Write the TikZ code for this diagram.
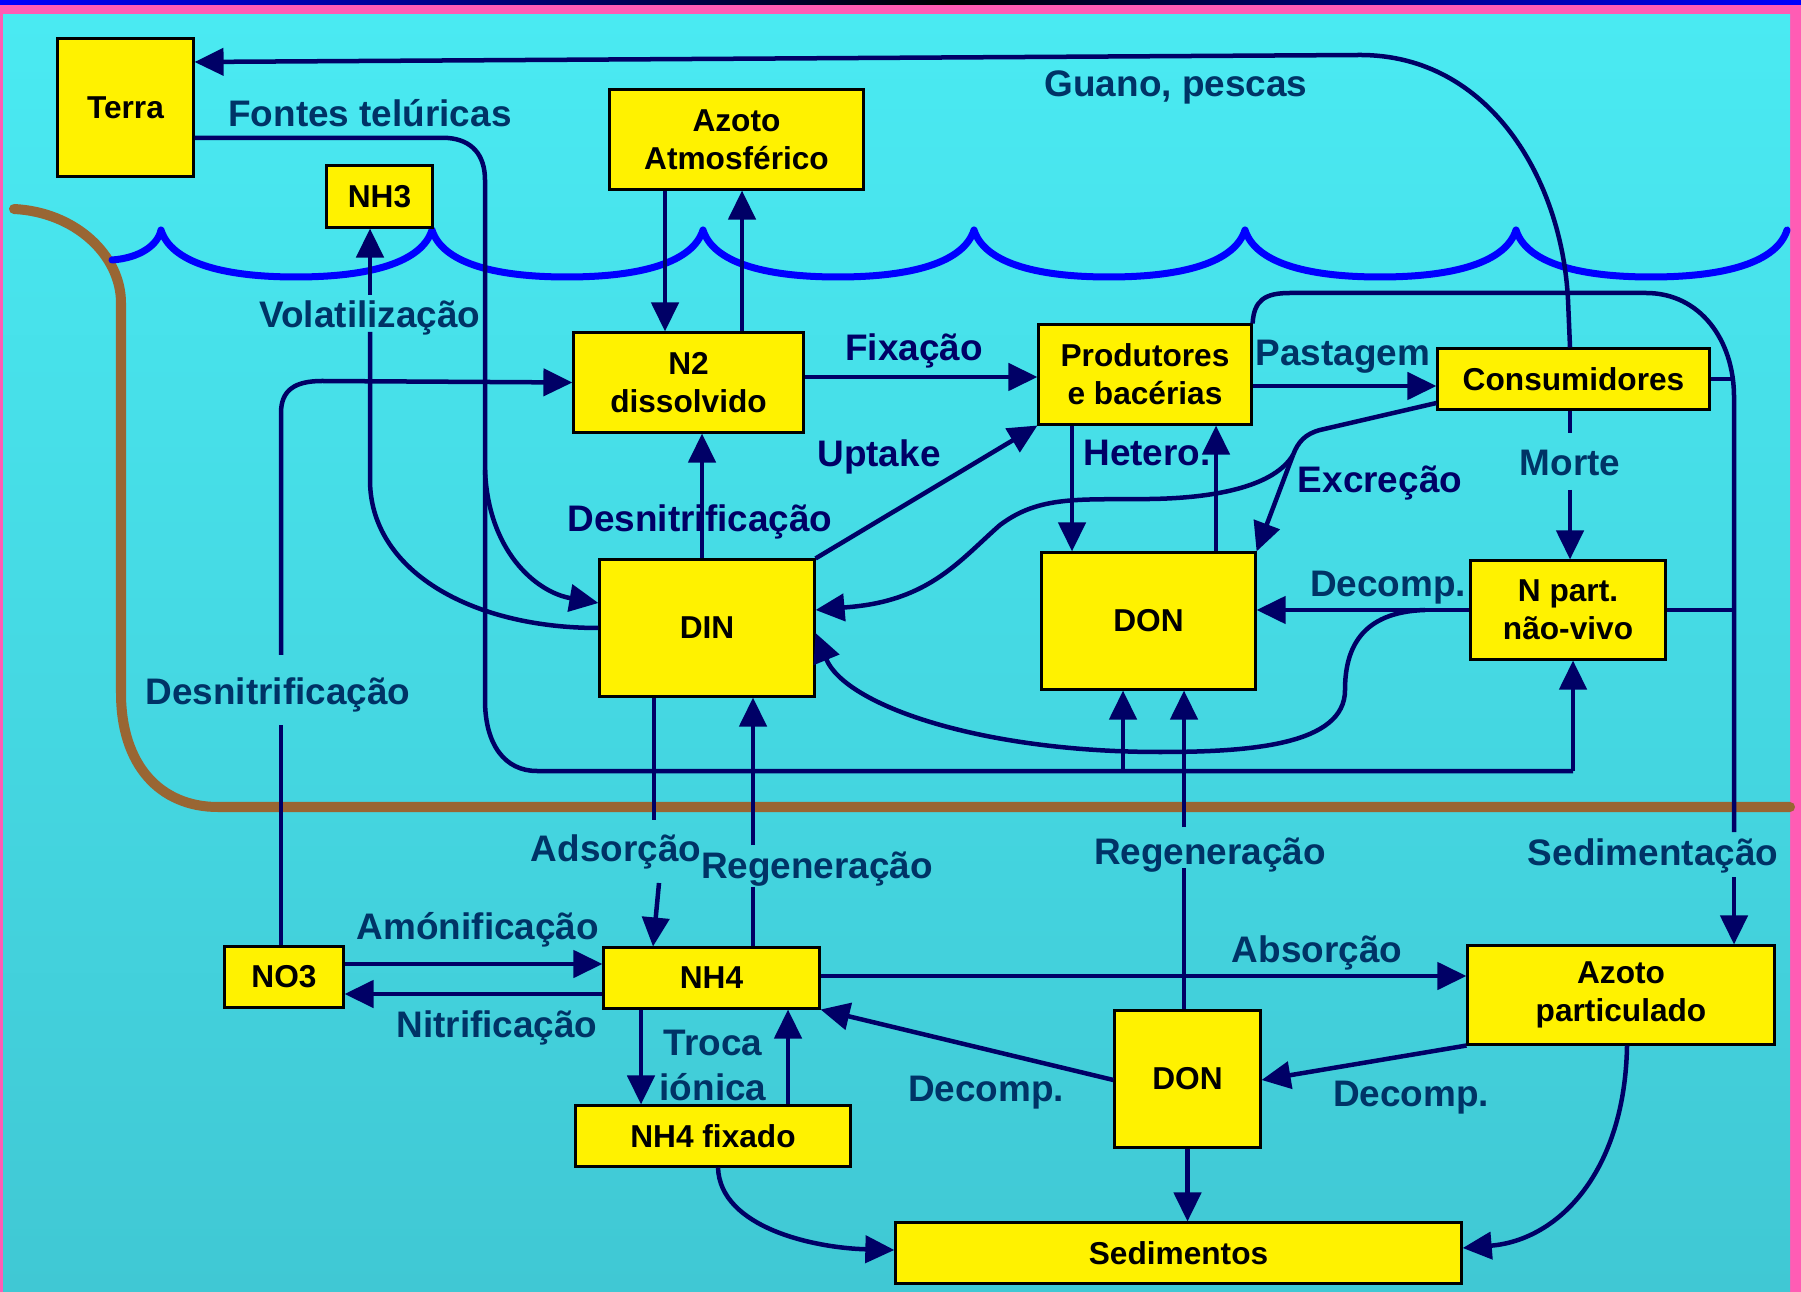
\documentclass[tikz,border=0pt]{standalone}
\usepackage{fontspec}
\setmainfont{Liberation Sans}
\usetikzlibrary{arrows.meta}
\definecolor{fundoA}{HTML}{4AEAF2}
\definecolor{fundoB}{HTML}{40C8D4}
\definecolor{rosa}{HTML}{FF5CB4}
\definecolor{marinho}{HTML}{000066}
\definecolor{azulesc}{HTML}{003366}
\definecolor{barro}{HTML}{996633}
\begin{document}
\begin{tikzpicture}[x=0.01cm,y=-0.01cm,
  pool/.style={draw=black,line width=0.03cm,fill=yellow,inner sep=0pt,align=center,font=\fontsize{9}{10.8}\selectfont\bfseries},
  proc/.style={text=azulesc,inner sep=0pt,align=center,font=\fontsize{10.5}{12.8}\selectfont\bfseries},
  procn/.style={proc,text=marinho},
  fio/.style={draw=marinho,line width=0.045cm},
  flux/.style={fio,-{Triangle[length=0.29cm,width=0.27cm]}}]
\useasboundingbox (0,0) rectangle (1801,1292);
\fill[rosa] (0,0) rectangle (1801,1292);
\shade[left color=blue,right color=black] (0,0) rectangle (950,5);
\shade[left color=black,right color=blue] (950,0) rectangle (1801,5);
\shade[top color=fundoA,bottom color=fundoB] (3,15) rectangle (1790,1292);
\draw[barro,line width=0.1cm,line cap=round] (14,209) .. controls (75,212) and (121,255) .. (121,303) -- (121,693) .. controls (121,765) and (160,807) .. (218,807) -- (1790,807);
\draw[blue,line width=0.07cm,line join=round,line cap=round] (112,260) .. controls (140,258) and (158,245) .. (161,230)
  foreach \c in {161,432,703,974,1245,1516} { .. controls ({\c+10},262) and ({\c+60},277) .. ({\c+135},277) .. controls ({\c+210},277) and ({\c+261},262) .. ({\c+271},230) };

\node[pool,minimum width=1.35cm,minimum height=1.37cm] (terra) at (125.5,107.5) {Terra};
\node[pool,minimum width=1.05cm,minimum height=0.61cm] (nh3) at (379.5,196.5) {NH3};
\node[pool,minimum width=2.53cm,minimum height=0.99cm] (azatm) at (736.5,139.5) {Azoto\\Atmosférico};
\node[pool,minimum width=2.29cm,minimum height=0.99cm] (n2) at (688.5,382.5) {N2\\dissolvido};
\node[pool,minimum width=2.12cm,minimum height=0.99cm] (prod) at (1145,374.5) {Produtores\\e bacérias};
\node[pool,minimum width=2.71cm,minimum height=0.60cm] (cons) at (1573.5,379) {Consumidores};
\node[pool,minimum width=2.14cm,minimum height=1.36cm] (din) at (707,628) {DIN};
\node[pool,minimum width=2.13cm,minimum height=1.36cm] (donsup) at (1148.5,621) {DON};
\node[pool,minimum width=1.94cm,minimum height=0.98cm] (npart) at (1568,610) {N part.\\não-vivo};
\node[pool,minimum width=1.18cm,minimum height=0.60cm] (no3) at (284,977) {NO3};
\node[pool,minimum width=2.15cm,minimum height=0.60cm] (nh4) at (711.5,978) {NH4};
\node[pool,minimum width=2.74cm,minimum height=0.60cm] (nh4fix) at (713,1136) {NH4 fixado};
\node[pool,minimum width=1.45cm,minimum height=1.36cm] (doninf) at (1187.5,1079) {DON};
\node[pool,minimum width=3.06cm,minimum height=0.98cm] (azpart) at (1621,995) {Azoto\\particulado};
\node[pool,minimum width=5.65cm,minimum height=0.60cm] (sed) at (1178.5,1253) {Sedimentos};

\node[proc] (lfontes) at (370,113) {Fontes telúricas};
\node[proc] (lguano) at (1176,87) {Guano, pescas};
\node[proc] (lvolat) at (370,318) {Volatilização};
\node[procn] (lfix) at (914,351) {Fixação};
\node[proc] (lpast) at (1343,357) {Pastagem};
\node[procn] (lupt) at (879,457) {Uptake};
\node[procn] (lhet) at (1147,453) {Hetero.};
\node[procn] (lexc) at (1380,483) {Excreção};
\node[proc] (lmorte) at (1570,463) {Morte};
\node[procn] (ldesa) at (700,522) {Desnitrificação};
\node[proc] (ldeca) at (1388,588) {Decomp.};
\node[proc] (ldesb) at (278,695) {Desnitrificação};
\node[proc] (ladso) at (616,852) {Adsorção};
\node[proc] (lrega) at (817,869) {Regeneração};
\node[proc] (lregb) at (1210,855) {Regeneração};
\node[proc] (lsedi) at (1653,856) {Sedimentação};
\node[proc] (lamon) at (478,930) {Amónificação};
\node[proc] (lnitr) at (497,1028) {Nitrificação};
\node[proc] (ltroca) at (713,1065) {Troca\\iónica};
\node[proc] (labso) at (1317,953) {Absorção};
\node[proc] (ldecb) at (986,1093) {Decomp.};
\node[proc] (ldecc) at (1411,1098) {Decomp.};

\draw[flux] (cons.north -| 1570,0) -- (1568,300) .. controls (1562,180) and (1490,55) .. (1360,55) -- (terra.east |- 0,62);
\draw[fio] (terra.east |- 0,138) -- (448,138) .. controls (472,140) and (485,155) .. (485,180) -- (485,700) .. controls (485,745) and (505,771) .. (537,771) -- (1573,771);
\coordinate (jfontes) at (485,470);
\draw[flux] (jfontes) .. controls (488,550) and (535,592) .. (din.west |- 0,603);
\draw[flux] (1573,771) -- (npart.south -| 1573,0);
\draw[flux] (1123,771) -- (donsup.south -| 1123,0);
\draw[fio] (din.west) .. controls (470,628) and (370,570) .. (370,480) -- (370,332);
\draw[flux] (370,295) -- (nh3.south -| 370,0);
\draw[fio] (no3.north -| 281,0) -- (281,725);
\draw[flux] (281,655) -- (281,413) .. controls (281,390) and (295,381) .. (322,381) -- (n2.west);
\draw[flux] (azatm.south -| 665,0) -- (n2.north -| 665,0);
\draw[flux] (n2.north -| 742,0) -- (azatm.south -| 742,0);
\draw[flux] (n2.east |- 0,377) -- (prod.west |- 0,377);
\draw[flux] (prod.east |- 0,386) -- (cons.west |- 0,386);
\draw[flux] (din.north -| 702,0) -- (n2.south -| 702,0);
\draw[flux] (din.north east) -- (prod.south west);
\draw[flux] (prod.south -| 1072,0) -- (donsup.north -| 1072,0);
\draw[flux] (donsup.north -| 1216,0) -- (prod.south -| 1216,0);
\draw[fio] (cons.west |- 0,403) -- (1320,430) .. controls (1305,434) and (1298,442) .. (1293,455) coordinate (jexcr);
\draw[flux] (jexcr) -- (donsup.north east);
\draw[flux] (jexcr) .. controls (1275,485) and (1220,498) .. (1150,499) .. controls (1080,500) and (1040,495) .. (1000,525) .. controls (960,560) and (930,600) .. (850,607) -- (din.east |- 0,610);
\draw[flux] (npart.west) -- (donsup.east |- npart.west);
\draw[fio] (cons.south -| 1570,0) -- (1570,433);
\draw[flux] (1570,490) -- (npart.north -| 1570,0);
\draw[flux] (1425,610) .. controls (1360,612) and (1345,650) .. (1345,690) .. controls (1345,745) and (1250,752) .. (1160,752) .. controls (980,752) and (845,705) .. (din.east |- 0,633);
\draw[fio] (prod.north east) .. controls (1254,300) and (1265,293) .. (1290,293) -- (1646,293) .. controls (1700,293) and (1734,340) .. (1734,397) -- (1734,832);
\draw[flux] (1734,877) -- (azpart.north -| 1734,0);
\draw[fio] (cons.east) -- (cons.east -| 1734,0);
\draw[fio] (npart.east) -- (npart.east -| 1734,0);
\draw[fio] (din.south -| 654,0) -- (654,820);
\draw[flux] (659,883) -- (nh4.north -| 653,0);
\draw[fio] (nh4.north -| 753,0) -- (753,887);
\draw[flux] (753,845) -- (din.south -| 753,0);
\draw[fio] (doninf.north -| 1184,0) -- (1184,868);
\draw[flux] (1184,827) -- (donsup.south -| 1184,0);
\draw[flux] (no3.east |- 0,964) -- (nh4.west |- 0,964);
\draw[flux] (nh4.west |- 0,994) -- (no3.east |- 0,994);
\draw[flux] (nh4.south -| 641,0) -- (nh4fix.north -| 641,0);
\draw[flux] (nh4fix.north -| 788,0) -- (nh4.south -| 788,0);
\draw[flux] (nh4fix.south -| 718,0) .. controls (720,1228) and (815,1248) .. (sed.west |- 0,1250);
\draw[flux] (nh4.east |- 0,976) -- (azpart.west |- 0,976);
\draw[flux] (doninf.west |- 0,1080) -- (nh4.south east);
\draw[flux] (azpart.south west) -- (doninf.east |- 0,1080);
\draw[flux] (doninf.south) -- (sed.north -| doninf.south);
\draw[flux] (azpart.south -| 1627,0) .. controls (1625,1170) and (1560,1240) .. (sed.east |- 0,1248);
\end{tikzpicture}
\end{document}
